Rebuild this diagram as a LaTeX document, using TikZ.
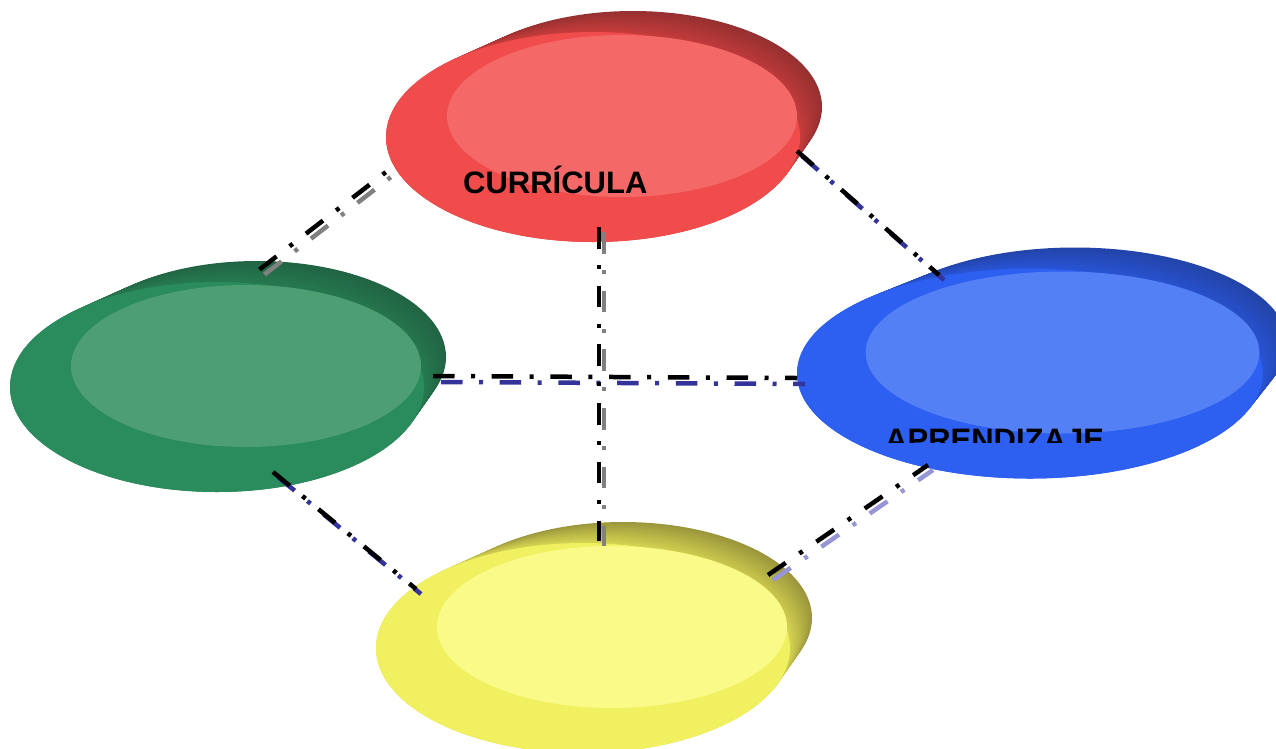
\documentclass[tikz,border=0pt]{standalone}
\usepackage{fontspec}
\newfontfamily\labelfont{Liberation Sans}
\usetikzlibrary{shapes.geometric,calc}

\definecolor{redfront}{RGB}{240,76,76}
\definecolor{redinner}{RGB}{244,104,104}
\definecolor{redmid}{RGB}{200,60,60}
\definecolor{redback}{RGB}{150,48,48}
\definecolor{grnfront}{RGB}{42,140,92}
\definecolor{grninner}{RGB}{78,158,116}
\definecolor{grnmid}{RGB}{38,122,80}
\definecolor{grnback}{RGB}{33,100,68}
\definecolor{blufront}{RGB}{45,95,240}
\definecolor{bluinner}{RGB}{84,128,246}
\definecolor{blumid}{RGB}{40,84,214}
\definecolor{bluback}{RGB}{35,68,168}
\definecolor{yelfront}{RGB}{240,240,96}
\definecolor{yelinner}{RGB}{250,250,136}
\definecolor{yelmid}{RGB}{215,213,82}
\definecolor{yelback}{RGB}{155,150,60}
\definecolor{shadowgray}{RGB}{128,128,128}
\definecolor{shadowblue}{RGB}{51,51,153}
\definecolor{shadowlight}{RGB}{150,150,215}

% #1 name, #2/#3 centre of the light disc, #4 width factor, #5 colour prefix
\newcommand\drawblob[5]{%
  \foreach \i in {20,19,...,0}{%
    \pgfmathsetmacro\cx{#2+#4*(-29+2*\i)}
    \pgfmathsetmacro\cy{#3+21-1.5*\i}
    \pgfmathsetmacro\rx{#4*(207-0.9*\i)}
    \pgfmathsetmacro\ry{105-0.45*\i}
    \pgfmathsetmacro\pc{5*\i}
    \fill[#5back!\pc!#5mid] (\cx,\cy) ellipse [x radius=\rx, y radius=\ry];
  }
  \node[blobfront, fill=#5front, minimum width=#4*414pt] (#1) at ({#2-29*#4},{#3+21}) {};
  \fill[#5inner] (#2,#3) ellipse [x radius=175*#4, y radius=81];
}

\begin{document}
\begin{tikzpicture}[
    x=1pt, y=-1pt,
    blobfront/.style={ellipse, inner sep=0pt, outer sep=0pt, minimum height=210pt},
    blobtext/.style={font=\labelfont\bfseries\fontsize{31}{31}\selectfont, inner sep=0pt, anchor=base west},
    link/.style={line width=4.5pt, dash pattern=on 21.5pt off 16.5pt on 4pt off 16.7pt},
    shadowed/.style 2 args={preaction={link, draw=#1, transform canvas={shift={#2}}}}
]
\useasboundingbox (0,0) rectangle (1276,748);
\clip (0,0) rectangle (1276,748);

% Discs
\drawblob{curricula}{622}{116}{1}{red}
\drawblob{verde}{246}{366}{1}{grn}
\drawblob{aprendizaje}{1062.5}{352.5}{1.125}{blu}
\drawblob{amarillo}{612}{627}{1}{yel}

% Texts
\node (curriculatxt) [blobtext] at (463,193) {CURRÍCULA};
\begin{scope}
  \clip (870,400) rectangle (1130,442);
  \node (aprendizajetxt) [blobtext] at (885,450) {APRENDIZAJE};
\end{scope}

% Link ends
\coordinate (v-c) at (259.5,269.5);
\coordinate (c-v) at (386,172);
\coordinate (c-a) at (797,151);
\coordinate (a-c) at (939,275);
\coordinate (v-m) at (273,472);
\coordinate (m-v) at (416,589);
\coordinate (m-a) at (768,575);
\coordinate (a-m) at (928,465);
\coordinate (v-a) at (433,376);
\coordinate (a-v) at (797,378);
\coordinate (c-m) at (599,227);
\coordinate (m-c) at (599,541);

% Links
\draw[link, shadowed={shadowgray}{(5,5)}] (v-c) -- (c-v);
\draw[link, shadowed={shadowblue}{(5,5)}] (c-a) -- (a-c);
\draw[link, shadowed={shadowblue}{(5,5)}] (v-m) -- (m-v);
\draw[link, shadowed={shadowlight}{(5,5)}] (m-a) -- (a-m);
\draw[link, shadowed={shadowblue}{(8,6)}] (v-a) -- (a-v);
\draw[link, shadowed={shadowgray}{(5,5)}] (c-m) -- (m-c);

\end{tikzpicture}
\end{document}
